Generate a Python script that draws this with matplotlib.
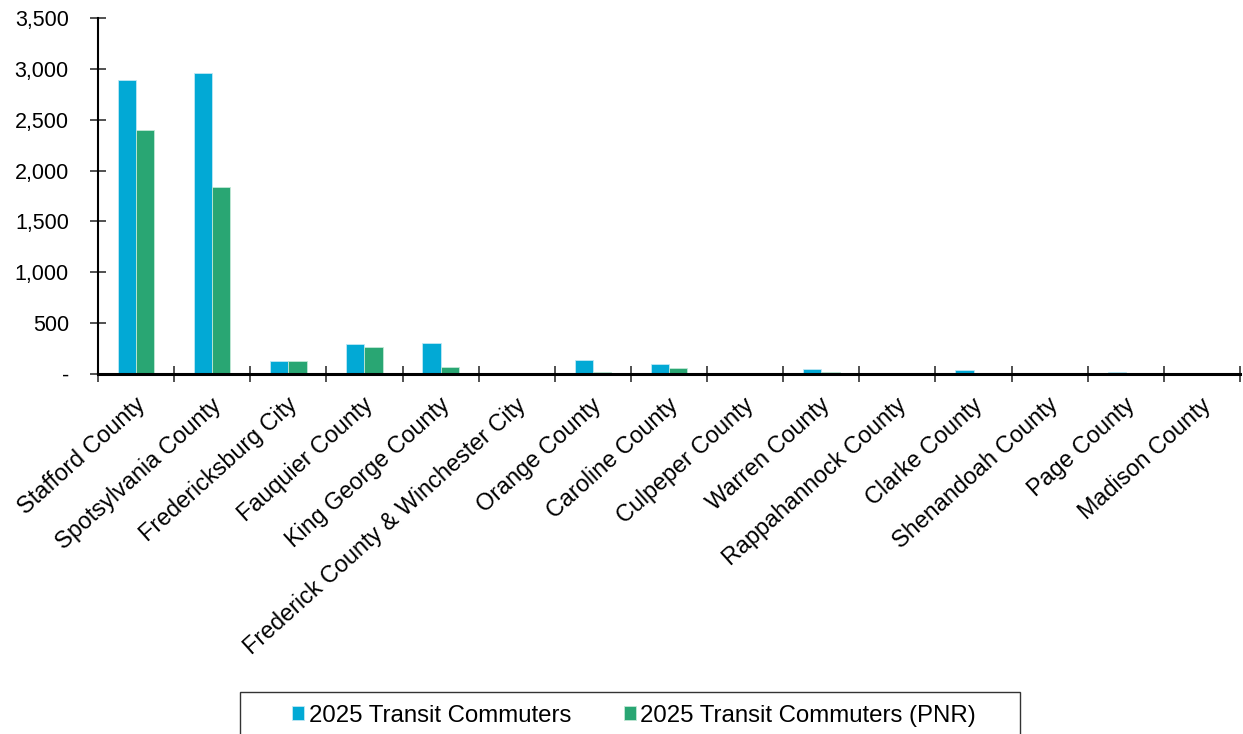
import matplotlib
matplotlib.use("Agg")
import matplotlib.pyplot as plt
import numpy as np
from matplotlib.ticker import FuncFormatter
from matplotlib.patches import Rectangle
import matplotlib.transforms as mtransforms

categories = ["Stafford County", "Spotsylvania County", "Fredericksburg City",
              "Fauquier County", "King George County", "Frederick County & Winchester City",
              "Orange County", "Caroline County", "Culpeper County", "Warren County",
              "Rappahannock County", "Clarke County", "Shenandoah County", "Page County",
              "Madison County"]
transit = [2890, 2960, 128, 296, 302, 13, 141, 102, 0, 50, 0, 43, 0, 16, 0]
transit_pnr = [2400, 1840, 128, 263, 66, 0, 23, 62, 0, 18, 0, 0, 0, 4, 0]
series_names = ["2025 Transit Commuters", "2025 Transit Commuters (PNR)"]
yticks = [0, 500, 1000, 1500, 2000, 2500, 3000, 3500]

plt.rcParams['font.family'] = ['Liberation Sans', 'DejaVu Sans']

W, H = 1243, 734
fig = plt.figure(figsize=(W/100, H/100), dpi=100)
ax = fig.add_axes([98/W, 1-374/H, (1240-98)/W, (374-18)/H])

x = np.arange(len(categories))
bw = 0.24
blue = "#02A9D5"
green = "#29A673"
ax.bar(x - bw/2, transit, bw, color=blue, edgecolor="#bfe8f4", linewidth=0.6, label=series_names[0])
ax.bar(x + bw/2, transit_pnr, bw, color=green, edgecolor="#c2e8d6", linewidth=0.6, label=series_names[1])

ax.set_xlim(-0.5, len(categories) - 0.5)
ax.set_ylim(0, 3500)
ax.set_yticks(yticks)
ax.yaxis.set_major_formatter(FuncFormatter(lambda v, p: "-" if v == 0 else f"{int(v):,}"))
ax.set_xticks(np.arange(len(categories) + 1) - 0.5)
ax.set_xticklabels([])
ax.set_xticks(x, minor=True)
ax.set_xticklabels(categories, minor=True, rotation=42, ha="right", rotation_mode="anchor", fontsize=16.8)
ax.tick_params(axis="x", which="minor", length=0, pad=14)
ax.tick_params(axis="x", which="major", direction="inout", length=12, width=1.2, color="#333333")
ax.tick_params(axis="y", direction="inout", length=12, width=1.2, color="#333333", labelsize=15.5, pad=15)

offset = mtransforms.ScaledTranslation(-2/100, 0, fig.dpi_scale_trans)
for lbl in ax.get_xticklabels(minor=True):
    lbl.set_transform(lbl.get_transform() + offset)

for s in ["top", "right"]:
    ax.spines[s].set_visible(False)
ax.spines["left"].set_linewidth(1.5)
ax.spines["bottom"].set_linewidth(2.2)

# legend frame
fig.patches.append(Rectangle((240/W, 1-745/H), (1020-240)/W, (745-692)/H,
                             transform=fig.transFigure, fill=False, edgecolor="#333333",
                             linewidth=1.0))
leg = fig.legend(loc="center left", bbox_to_anchor=(292/W, 1-716/H),
                 ncol=2, fontsize=17.3, frameon=False,
                 handlelength=0.52, handleheight=0.52, handletextpad=0.17,
                 borderpad=0, columnspacing=2.2, borderaxespad=0)

fig.savefig("out.png", dpi=100)
